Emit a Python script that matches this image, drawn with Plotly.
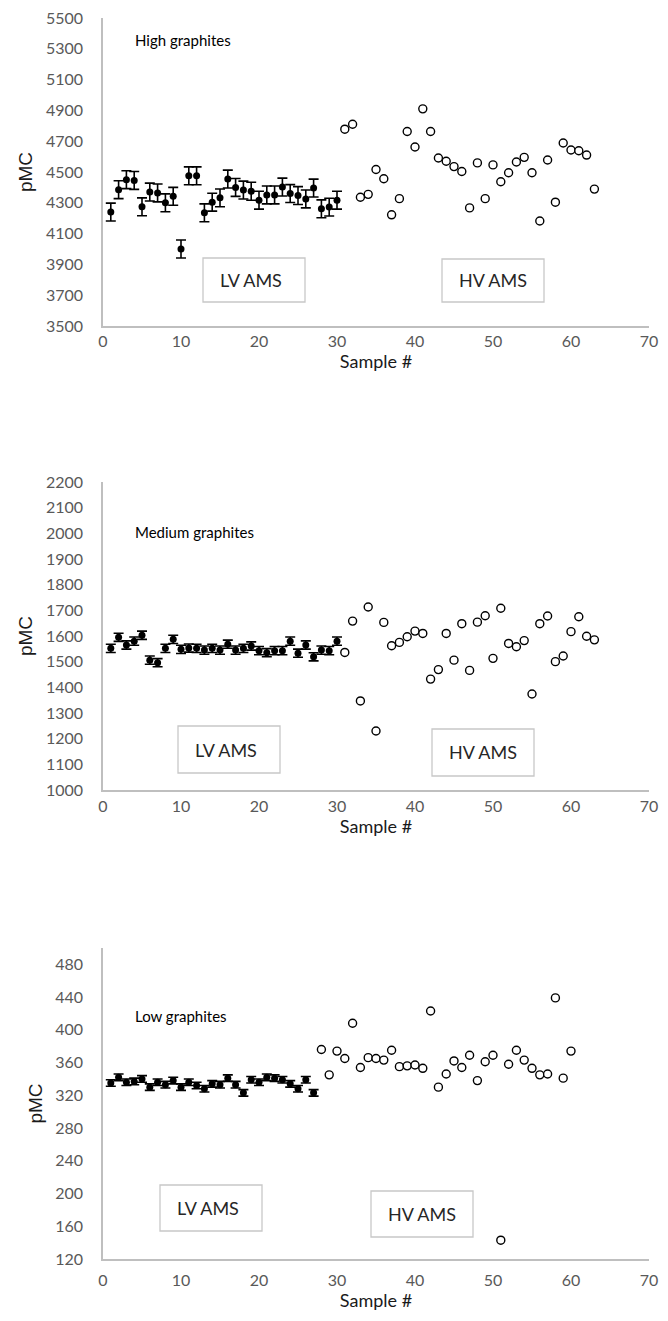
import plotly.graph_objects as go

# --- data ---
high_lv_x = list(range(1, 31))
high_lv_y = [4240, 4385, 4450, 4445, 4274, 4370, 4364, 4300, 4342, 4000,
             4475, 4475, 4235, 4304, 4332, 4454, 4400, 4383, 4375, 4317,
             4351, 4351, 4402, 4360, 4347, 4325, 4396, 4261, 4272, 4317]
high_lv_err = [58, 58, 58, 58, 58, 58, 58, 58, 58, 58,
               58, 58, 58, 58, 58, 58, 58, 58, 58, 58,
               58, 58, 58, 58, 58, 58, 58, 58, 58, 58]
high_hv_x = list(range(31, 64))
high_hv_y = [4778, 4810, 4336, 4355, 4516, 4456, 4222, 4327, 4763, 4662,
             4910, 4763, 4591, 4570, 4535, 4503, 4267, 4559, 4327, 4546,
             4437, 4495, 4565, 4595, 4495, 4182, 4578, 4304, 4688, 4643,
             4638, 4610, 4389]

med_lv_x = list(range(1, 31))
med_lv_y = [1552, 1595, 1565, 1580, 1603, 1506, 1496, 1552, 1587, 1548,
            1553, 1552, 1545, 1552, 1545, 1568, 1545, 1552, 1561, 1543,
            1535, 1543, 1543, 1580, 1533, 1565, 1519, 1545, 1543, 1580]
med_lv_err = [16, 16, 16, 16, 16, 16, 16, 16, 16, 16,
              16, 16, 16, 16, 16, 16, 16, 16, 16, 16,
              16, 16, 16, 16, 16, 16, 16, 16, 16, 16]
med_hv_x = list(range(31, 64))
med_hv_y = [1536, 1658, 1347, 1713, 1230, 1653, 1562, 1575, 1597, 1619,
            1610, 1432, 1469, 1610, 1506, 1648, 1466, 1654, 1679, 1513,
            1708, 1571, 1558, 1582, 1374, 1648, 1678, 1500, 1522, 1617,
            1675, 1599, 1585]

low_lv_x = list(range(1, 28))
low_lv_y = [335, 342, 336, 337, 340, 330, 336, 333, 338, 330,
            336, 332, 328, 334, 333, 341, 333, 323, 339, 336,
            342, 341, 339, 334, 328, 339, 323]
low_lv_err = [4, 4, 4, 4, 4, 4, 4, 4, 4, 4,
              4, 4, 4, 4, 4, 4, 4, 4, 4, 4,
              4, 4, 4, 4, 4, 4, 4]
low_hv_x = list(range(28, 61))
low_hv_y = [376, 345, 374, 365, 408, 354, 366, 365, 363, 375,
            355, 356, 357, 353, 423, 330, 346, 362, 354, 369,
            338, 361, 369, 143, 358, 375, 363, 353, 345, 346,
            439, 341, 374]

panels = [
    ("High graphites", high_lv_x, high_lv_y, high_lv_err, high_hv_x, high_hv_y,
     [3500, 5500], 200, 3500),
    ("Medium graphites", med_lv_x, med_lv_y, med_lv_err, med_hv_x, med_hv_y,
     [1000, 2200], 100, 1000),
    ("Low graphites", low_lv_x, low_lv_y, low_lv_err, low_hv_x, low_hv_y,
     [120, 500], 40, 120),
]

# --- geometry, in page pixels; the page body adds an 8px margin ---
OFF = 8
TOP = 18
W, H = 668 - 2 * OFF, 1321 - 2 * OFF
L, R, T, B = 103 - OFF, 11, TOP - OFF, 1321 - OFF - 1259
plot_w = W - L - R
plot_h = H - T - B
areas = [(TOP, 326), (482, 790), (948, 1259)]
lv_boxes = [(203, 258, 305, 302), (178, 726, 280, 773), (160, 1185, 262, 1231)]
hv_boxes = [(442, 259, 544, 302), (432, 729, 534, 776), (371, 1191, 473, 1237)]
title_pos = [(133, 40), (133, 532), (133, 1016)]
x_label_gap = [0, 1, 6]
x_title_gap = [2, 0, 6]


def px(x):
    return (x - OFF - L) / plot_w


def py(y):
    return (H - B - (y - OFF)) / plot_h


AXIS = "#bfbfbf"
TICK = dict(family="Lato", size=16, color="#595959")
FONT = "Lato"

fig = go.Figure()
annotations = []
shapes = []

for i, (name, lx, ly, le, hx, hy, yr, dt, t0) in enumerate(panels):
    n = "" if i == 0 else str(i + 1)
    fig.add_trace(go.Scatter(
        x=lx, y=ly, mode="markers", xaxis="x" + n, yaxis="y" + n,
        marker=dict(color="black", size=7),
        error_y=dict(type="data", array=le, color="black", thickness=1.6, width=5),
        showlegend=False))
    fig.add_trace(go.Scatter(
        x=hx, y=hy, mode="markers", xaxis="x" + n, yaxis="y" + n,
        marker=dict(color="white", size=8, line=dict(color="black", width=1.4)),
        showlegend=False))

    top, bot = areas[i]
    fig.layout["xaxis" + n] = dict(
        domain=[0, 1], anchor="y" + n, range=[0, 70], dtick=10, tick0=0,
        showline=True, linecolor=AXIS, linewidth=1.5, showgrid=False,
        zeroline=False, ticks="", tickfont=TICK, automargin=False,
        ticklabelstandoff=x_label_gap[i], ticklabeloverflow="allow",
        title=dict(text="Sample #", font=dict(family=FONT, size=18, color="#1a1a1a"),
                   standoff=x_title_gap[i]))
    fig.layout["yaxis" + n] = dict(
        domain=[py(bot), py(top)], anchor="x" + n, range=yr, dtick=dt, tick0=t0,
        showline=True, linecolor=AXIS, linewidth=1.5, showgrid=False,
        zeroline=False, ticks="", tickfont=TICK, ticklabelstandoff=15,
        automargin=False, ticklabeloverflow="allow",
        title=dict(text="pMC", font=dict(family="Liberation Sans", size=19,
                                         color="#1a1a1a"), standoff=8))

    tx, ty = title_pos[i]
    annotations.append(dict(text=name, x=px(tx), y=py(ty), xref="paper", yref="paper",
                            xanchor="left", yanchor="middle", showarrow=False,
                            font=dict(family=FONT, size=15, color="black")))
    for box, label in ((lv_boxes[i], "LV AMS"), (hv_boxes[i], "HV AMS")):
        x0, y0, x1, y1 = box
        shapes.append(dict(type="rect", xref="paper", yref="paper",
                           x0=px(x0), x1=px(x1), y0=py(y1), y1=py(y0),
                           line=dict(color="#c8c8c8", width=1.3), fillcolor="white",
                           layer="below"))
        annotations.append(dict(text=label, x=px(x0 + 15), y=py((y0 + y1) / 2),
                                xref="paper", yref="paper", xanchor="left",
                                yanchor="middle", showarrow=False,
                                font=dict(family=FONT, size=18, color="#262626")))

fig.update_layout(
    width=W, height=H,
    margin=dict(l=L, r=R, t=T, b=B, autoexpand=False),
    plot_bgcolor="white", paper_bgcolor="white",
    annotations=annotations, shapes=shapes,
)

fig.write_html("out.html")
